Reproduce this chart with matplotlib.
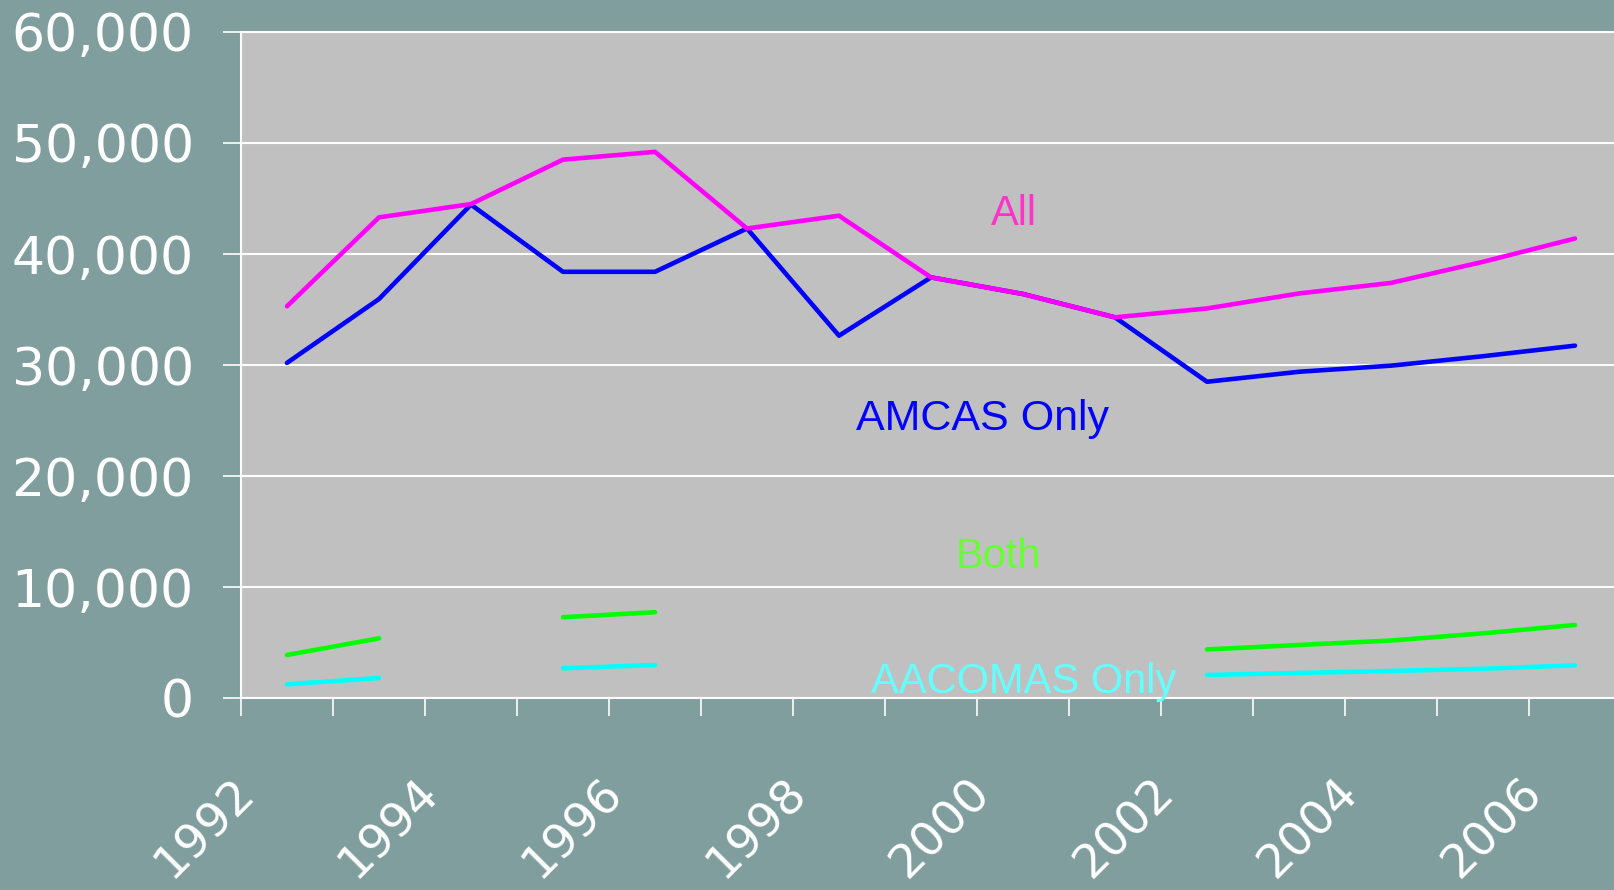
import numpy as np
import matplotlib
matplotlib.use("Agg")
import matplotlib.pyplot as plt
from matplotlib.ticker import FuncFormatter
from matplotlib.transforms import ScaledTranslation, blended_transform_factory

nan = np.nan
years = list(range(1992, 2007))
all_apps = [35300, 43300, 44500, 48500, 49200, 42300, 43450, 37900, 36400, 34300,
            35100, 36450, 37400, 39300, 41400]
amcas_only = [30200, 35950, 44450, 38400, 38400, 42300, 32650, 37900, 36400, 34300,
              28500, 29400, 29950, 30800, 31750]
both = [3900, 5400, nan, 7300, 7750, nan, nan, nan, nan, nan,
        4400, 4800, 5200, 5850, 6600]
aacomas_only = [1260, 1830, nan, 2700, 3000, nan, nan, nan, nan, nan,
                2100, 2280, 2460, 2660, 2970]
xlabels_shown = ["1992", "1994", "1996", "1998", "2000", "2002", "2004", "2006"]
yticks = [0, 10000, 20000, 30000, 40000, 50000, 60000]

BG = "#809E9E"
PLOT_BG = "#C0C0C0"

fig = plt.figure(figsize=(16.14, 8.90), dpi=100, facecolor=BG)
W, H = 1614, 890
ax = fig.add_axes([241 / W, 1 - 698.3 / H, 1380 / W, 666.4 / H])
ax.set_facecolor(PLOT_BG)

x = np.arange(len(years))
lw = 3.3
kw = dict(lw=lw, solid_capstyle="round", solid_joinstyle="round")
ax.plot(x, amcas_only, color="#0000FF", zorder=3, **kw)
ax.plot(x, all_apps, color="#FF00FF", zorder=4, **kw)
ax.plot(x, both, color="#00FF00", zorder=3, **kw)
ax.plot(x, aacomas_only, color="#00FFFF", zorder=3, **kw)

ax.set_xlim(-0.5, len(years) - 0.5)
ax.set_ylim(0, 60000)
ax.set_xticks(np.arange(-0.5, len(years), 1.0))
ax.set_xticklabels([])
ax.set_yticks(yticks)
ax.yaxis.set_major_formatter(FuncFormatter(lambda v, p: f"{int(v):,}"))
ax.grid(axis="y", color="white", lw=1.5, zorder=1)
ax.set_axisbelow(True)

for s in ["left", "bottom", "top"]:
    ax.spines[s].set_color("white")
    ax.spines[s].set_linewidth(1.5)
ax.spines["right"].set_visible(False)

ax.tick_params(axis="both", colors="white", length=13, width=1.2, direction="out")
ax.tick_params(axis="y", labelsize=37.5, pad=21, labelcolor="white")
for t in ax.get_yticklabels():
    t.set_fontfamily("DejaVu Sans")

# rotated x labels, every other category
trans = blended_transform_factory(ax.transData, ax.transAxes) + \
    ScaledTranslation(-0.82, -1.30, fig.dpi_scale_trans)
for lab in xlabels_shown:
    i = years.index(int(lab))
    ax.text(i, 0, lab, transform=trans, rotation=45, rotation_mode="anchor",
            ha="center", va="center", color="white", fontsize=34,
            family="DejaVu Sans", clip_on=False)

# series annotations
fam = "Liberation Sans"
ax.text(0.560, 0.710, "All", transform=ax.transAxes, ha="center", va="baseline",
        color="#FF33CC", fontsize=30, family=fam)
ax.text(0.537, 0.4026, "AMCAS Only", transform=ax.transAxes, ha="center", va="baseline",
        color="#0000FF", fontsize=31, family=fam)
ax.text(0.549, 0.195, "Both", transform=ax.transAxes, ha="center", va="baseline",
        color="#66FF33", fontsize=30, family=fam)
ax.text(0.567, 0.0075, "AACOMAS Only", transform=ax.transAxes, ha="center", va="baseline",
        color="#66FFFF", fontsize=30, family=fam, zorder=5)

fig.savefig("out.png", dpi=100, facecolor=BG)
